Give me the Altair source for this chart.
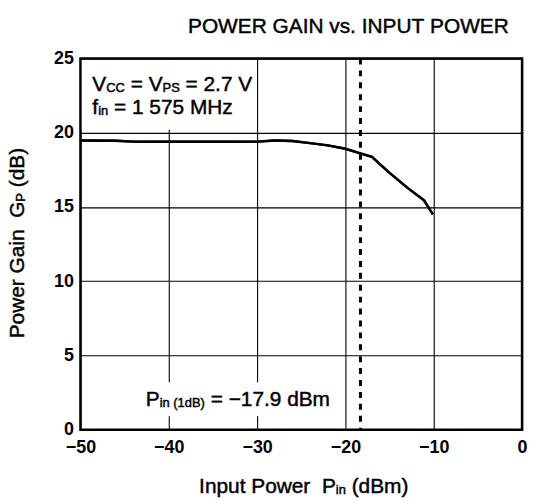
import re
import altair as alt
import pandas as pd

# ---- data ----
pin = [-50, -46, -44, -40, -35, -30, -28, -26, -24, -22, -20, -18.5, -17, -15.1, -13, -11.1, -10.1]
gain = [19.48, 19.46, 19.4, 19.39, 19.39, 19.4, 19.48, 19.44, 19.3, 19.15, 18.92, 18.65, 18.38, 17.35, 16.3, 15.45, 14.5]
p1db = [-18.3]
x_ticks = [-50, -40, -30, -20, -10, 0]
y_ticks = [0, 5, 10, 15, 20, 25]

title_text = [("POWER GAIN vs. INPUT POWER", "main")]
x_title = [("Input Power  P", "main"), ("in", "sub"), (" (dBm)", "main")]
y_title = [("Power Gain  G", "main"), ("P", "sub"), (" (dB)", "main")]
note1 = [("V", "main"), ("CC", "sub"), (" = V", "main"), ("PS", "sub"), (" = 2.7 V", "main")]
note2 = [("f", "main"), ("in", "sub"), (" = 1 575 MHz", "main")]
note3 = [("P", "main"), ("in (1dB)", "sub"), (" = \u221217.9 dBm", "main")]

FONT = "Liberation Sans"
MAIN = 21
SUB = 13
W, H = 445, 374

AW = {' ': 278, '=': 584, '.': 278, '(': 333, ')': 333, '\u2212': 584, '\u2013': 556,
      'V': 667, 'C': 722, 'P': 667, 'S': 667, 'M': 833, 'H': 722, 'B': 667, 'G': 778,
      'I': 278, 'A': 667, 'N': 722, 'O': 778, 'W': 944, 'E': 667, 'R': 722, 'U': 722,
      'T': 611, 'f': 278, 'i': 222, 'n': 556, 'z': 500, 'd': 556, 'o': 556, 'w': 722,
      'e': 556, 'r': 333, 'a': 556, 'm': 833, 'u': 556, 't': 278, 'p': 556, 's': 500,
      'v': 500}
for c in "0123456789":
    AW[c] = 556


def text_width(s, size):
    return sum(AW.get(c, 556) for c in s) * size / 1000.0


def rich(segs, x_enc, y_enc, angle=None):
    layers = []
    off = 0.0
    for txt, kind in segs:
        size = MAIN if kind == "main" else SUB
        for tok in re.findall(r"\S+|\s+", txt):
            if not tok.isspace():
                kw = dict(align="left", baseline="alphabetic", font=FONT, fontSize=size,
                          color="black", stroke="black", strokeWidth=0.45,
                          dx=off, dy=(0 if kind == "main" else 1))
                if angle is not None:
                    kw["angle"] = angle
                layers.append(
                    alt.Chart(pd.DataFrame({"t": [tok]}))
                    .mark_text(**kw)
                    .encode(x=x_enc, y=y_enc, text="t:N")
                )
            off += text_width(tok, size)
    return layers


def seg_width(segs):
    return sum(text_width(t, MAIN if k == "main" else SUB) for t, k in segs)


xs = alt.Scale(domain=[-50, 0], nice=False, zero=False)
ys = alt.Scale(domain=[0, 25], nice=False, zero=False)

curve_df = pd.DataFrame({"pin": pin, "gain": gain})

ax_common = dict(title=None, grid=True, domain=False, ticks=False,
                 labelFontSize=18, labelFont=FONT, labelColor="black", labelFontWeight="bold",
                 gridColor="black", gridWidth=1.1, gridOpacity=1, labelFlush=False)

base_axes = alt.Chart(curve_df).mark_line(color="black", strokeWidth=2.4).encode(
    x=alt.X("pin:Q", scale=xs, axis=alt.Axis(values=x_ticks, labelPadding=9, **ax_common)),
    y=alt.Y("gain:Q", scale=ys, axis=alt.Axis(values=y_ticks, labelPadding=7, **ax_common)),
)

# white boxes behind the annotations
boxes = alt.Chart(pd.DataFrame({
    "x1": [-49.85, -44.0], "x2": [-30.4, -20.5],
    "y1": [20.2, 0.9], "y2": [24.9, 3.2]})).mark_rect(color="white").encode(
    x=alt.X("x1:Q", scale=xs), x2="x2:Q", y=alt.Y("y1:Q", scale=ys), y2="y2:Q")

dash = alt.Chart(pd.DataFrame({"p": p1db})).mark_rule(
    color="black", strokeWidth=3, strokeDash=[6, 6]).encode(x=alt.X("p:Q", scale=xs))

curve = alt.Chart(curve_df).mark_line(color="black", strokeWidth=2.4).encode(
    x=alt.X("pin:Q", scale=xs), y=alt.Y("gain:Q", scale=ys))

texts = []
texts += rich(note1, alt.datum(-48.65), alt.datum(22.8))
texts += rich(note2, alt.datum(-48.65), alt.datum(21.25))
texts += rich(note3, alt.datum(-42.6), alt.datum(1.6))

# chart title, axis titles
tw = seg_width(title_text)
texts += rich(title_text, alt.value(270 - tw / 2), alt.value(-26))
xw = seg_width(x_title)
texts += rich(x_title, alt.value(225 - xw / 2), alt.value(438))
yw = seg_width(y_title)
texts += rich(y_title, alt.value(-57), alt.value(186 + yw / 2), angle=270)

chart = alt.layer(base_axes, boxes, dash, curve, *texts).properties(
    width=W, height=H,
    autosize=alt.AutoSizeParams(type="none"),
    padding={"left": 73, "top": 49, "right": 8, "bottom": 68},
).configure_view(stroke="black", strokeWidth=2.5)

chart.save("out.html", embed_options={"renderer": "svg", "actions": False})
